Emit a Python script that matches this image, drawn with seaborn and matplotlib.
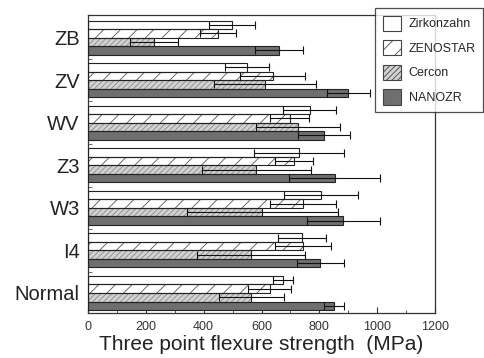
import numpy as np
import pandas as pd
import matplotlib
matplotlib.use("Agg")
import matplotlib.pyplot as plt
import matplotlib.patches as mpatches
from matplotlib.ticker import MultipleLocator, FixedLocator
import seaborn as sns

categories = ["ZB", "ZV", "WV", "Z3", "W3", "I4", "Normal"]
series = ["Zirkonzahn", "ZENOSTAR", "Cercon", "NANOZR"]

zirkonzahn_mean = [498, 550, 767, 730, 806, 740, 674]
zirkonzahn_sd = [81, 75, 92, 156, 127, 82, 35]
zenostar_mean = [450, 639, 697, 712, 743, 743, 629]
zenostar_sd = [63, 112, 68, 65, 114, 98, 74]
cercon_mean = [229, 612, 726, 582, 602, 563, 565]
cercon_sd = [83, 177, 145, 188, 261, 186, 113]
nanozr_mean = [660, 900, 817, 853, 883, 804, 851]
nanozr_sd = [82, 75, 90, 157, 127, 81, 35]

means = {"Zirkonzahn": zirkonzahn_mean, "ZENOSTAR": zenostar_mean,
         "Cercon": cercon_mean, "NANOZR": nanozr_mean}
sds = {"Zirkonzahn": zirkonzahn_sd, "ZENOSTAR": zenostar_sd,
       "Cercon": cercon_sd, "NANOZR": nanozr_sd}

rows = []
for s in series:
    for c, m, sd in zip(categories, means[s], sds[s]):
        rows.append({"category": c, "series": s, "value": m, "sd": sd})
df = pd.DataFrame(rows)

sns.set_style("ticks")
plt.rcParams["font.family"] = ["Liberation Sans", "DejaVu Sans"]
plt.rcParams["hatch.linewidth"] = 0.6

fig = plt.figure(figsize=(4.84, 3.58), dpi=100)
ax = fig.add_axes([88 / 484, 1 - 313 / 358, (435 - 88) / 484, (313 - 15) / 358])

styles = {
    "Zirkonzahn": dict(fc="white", hatch=None, hc="#333333"),
    "ZENOSTAR": dict(fc="white", hatch="//", hc="#555555"),
    "Cercon": dict(fc="#d2d2d2", hatch="//////", hc="#8a8a8a"),
    "NANOZR": dict(fc="#6f6f6f", hatch=None, hc="#333333"),
}

sns.barplot(data=df, x="value", y="category", hue="series", order=categories,
            hue_order=series, orient="h", width=0.8, errorbar=None,
            ax=ax, legend=False, saturation=1)

for s, cont in zip(series, ax.containers):
    st = styles[s]
    for p, m, sd in zip(cont.patches, means[s], sds[s]):
        p.set_facecolor(st["fc"])
        p.set_edgecolor(st["hc"])
        p.set_linewidth(0)
        if st["hatch"]:
            p.set_hatch(st["hatch"])
        outline = mpatches.Rectangle(p.get_xy(), p.get_width(), p.get_height(),
                                     fill=False, ec="#222222", lw=0.8, zorder=3)
        ax.add_patch(outline)
        yc = p.get_y() + p.get_height() / 2
        ax.errorbar(m, yc, xerr=sd, fmt="none", ecolor="#111111",
                    elinewidth=0.8, capsize=2.6, capthick=0.8, zorder=4)

ax.set_xlim(0, 1200)
ax.set_ylim(6.47, -0.53)
ax.xaxis.set_major_locator(MultipleLocator(200))
ax.xaxis.set_minor_locator(MultipleLocator(100))
ax.yaxis.set_minor_locator(FixedLocator([0.5, 1.5, 2.5, 3.5, 4.5, 5.5]))
ax.tick_params(axis="x", which="major", direction="in", length=4, width=0.8,
               labelsize=9, colors="#333333", pad=6)
ax.tick_params(axis="x", which="minor", direction="in", length=2.5, width=0.6,
               colors="#333333")
ax.tick_params(axis="y", which="major", length=0, labelsize=14.5, pad=6,
               labelcolor="#222222")
ax.tick_params(axis="y", which="minor", direction="in", length=3, width=0.6,
               colors="#555555")
for sp in ax.spines.values():
    sp.set_visible(True)
    sp.set_linewidth(0.9)
    sp.set_color("#333333")

ax.set_ylabel("")
ax.set_xlabel("Three point flexure strength  (MPa)", fontsize=15,
              color="#222222", labelpad=1)

handles = []
for s in series:
    st = styles[s]
    handles.append(mpatches.Patch(facecolor=st["fc"], edgecolor="#444444",
                                  hatch=st["hatch"], lw=0.8, label=s))
leg = fig.legend(handles=handles, loc="upper left",
                 bbox_to_anchor=(375 / 484, 1 - 8 / 358), frameon=True,
                 fancybox=False, edgecolor="#222222", fontsize=9,
                 handlelength=1.5, handleheight=1.5, labelspacing=0.75,
                 borderpad=0.6, handletextpad=0.6, borderaxespad=0)
leg.get_frame().set_linewidth(0.9)
leg.set_zorder(10)

fig.savefig("out.png", dpi=100)
